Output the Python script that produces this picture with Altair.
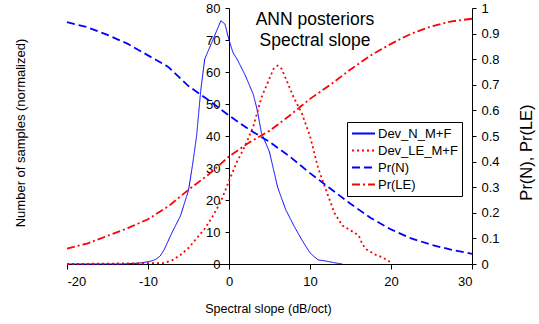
import altair as alt
import pandas as pd

series_names = ["Dev_N_M+F", "Dev_LE_M+F", "Pr(N)", "Pr(LE)"]

dev_n_x = [-20, -13, -11, -10, -9.5, -9, -8.5, -8, -7, -6, -5, -4.5, -4, -3.5, -3, -2.5, -2, -1.5,
           -1, -0.5, 0, 0.5, 1, 2, 3, 3.5, 4, 5, 6, 7, 8, 9, 10, 10.5, 11, 12, 13, 14]
dev_n_y = [0, 0, 0.3, 0.7, 1, 1.5, 2.5, 4.5, 10, 15, 23, 31, 40, 54, 64, 67, 70, 73,
           76, 75, 70, 66, 64, 59, 53, 48, 41, 35, 24, 17, 12, 7.5, 3.5, 2.3, 1.3, 0.9, 0.4, 0]

dev_le_x = [-20, -8, -7, -6, -5, -4, -3, -2, -1, 0, 1, 2, 3, 4, 5, 5.5, 6, 6.5, 7, 8, 9, 10,
            11, 12, 13, 14, 15, 16, 16.5, 17, 18, 19, 20]
dev_le_y = [0, 0.3, 1.2, 2.8, 5, 8, 11, 15, 19.5, 26, 32, 37, 43, 52, 58, 61, 62, 61, 58, 52, 47, 40,
            30, 23, 16, 12, 10.5, 9, 6, 4.5, 3, 2, 0.5]

pr_x = [-20, -17.5, -15, -12.5, -10, -7.5, -5, -2.5, 0, 2.5, 5, 7.5, 10, 12.5, 15, 17.5, 20,
        22.5, 25, 27.5, 30]
pr_n = [0.945, 0.925, 0.895, 0.86, 0.815, 0.77, 0.695, 0.64, 0.58, 0.525, 0.477, 0.42, 0.355,
        0.295, 0.235, 0.18, 0.135, 0.1, 0.075, 0.055, 0.04]
pr_le = [0.06, 0.08, 0.11, 0.14, 0.175, 0.225, 0.29, 0.35, 0.42, 0.475, 0.52, 0.58, 0.645,
         0.70, 0.76, 0.815, 0.86, 0.9, 0.928, 0.948, 0.958]

x_ticks = [-20, -10, 0, 10, 20, 30]
left_ticks = [0, 10, 20, 30, 40, 50, 60, 70, 80]
right_ticks = [0, 0.1, 0.2, 0.3, 0.4, 0.5, 0.6, 0.7, 0.8, 0.9, 1]
title_text = "ANN posteriors\nSpectral slope"


def frame(xs, ys, name):
    return pd.DataFrame({"x": xs, "y": ys, "series": [name] * len(xs)})


df_dev_n = frame(dev_n_x, dev_n_y, series_names[0])
df_dev_le = frame(dev_le_x, dev_le_y, series_names[1])
df_pr_n = frame(pr_x, pr_n, series_names[2])
df_pr_le = frame(pr_x, pr_le, series_names[3])

color_scale = alt.Scale(domain=series_names, range=["#0000ff", "#ff0000", "#0000ff", "#ff0000"])
dash_scale = alt.Scale(domain=series_names, range=[[1, 0], [2, 3], [8, 4], [8, 3, 2, 3]])

legend = alt.Legend(
    title=None, orient="none", legendX=280, legendY=114,
    strokeColor="black", fillColor="white", padding=4, cornerRadius=0,
    labelFontSize=13, labelColor="black", labelOffset=2,
    symbolType="stroke", symbolSize=529, symbolStrokeWidth=2,
    clipHeight=15, rowPadding=2,
)

x_enc = alt.X(
    "x:Q",
    scale=alt.Scale(domain=[-20, 30], nice=False, zero=False),
    axis=alt.Axis(
        values=x_ticks, grid=False, tickSize=5, labelPadding=16, labelBaseline="alphabetic",
        labelFontSize=13, labelExpr="datum.value + ''",
        title="Spectral slope (dB/oct)", titleFontSize=12.5, titleFontWeight="normal",
        titleX=201, titleY=48, titleBaseline="alphabetic", titleAlign="center",
        domainColor="black", tickColor="black", labelColor="black", titleColor="black",
    ),
)
color_enc = alt.Color("series:N", scale=color_scale, legend=legend)
dash_enc = alt.StrokeDash("series:N", scale=dash_scale, legend=legend)

y_left = alt.Y(
    "y:Q",
    scale=alt.Scale(domain=[0, 80], nice=False),
    axis=alt.Axis(
        orient="left", offset=-162, values=left_ticks, grid=False, tickSize=4, labelPadding=5,
        labelFontSize=13, title="Number of samples (normalized)", titleFontSize=13,
        titleFontWeight="normal", titleX=-209, titleY=124.5, titleAngle=270,
        titleBaseline="middle", titleAlign="center",
        domainColor="black", tickColor="black", labelColor="black", titleColor="black",
    ),
)
y_right = alt.Y(
    "y:Q",
    scale=alt.Scale(domain=[0, 1], nice=False),
    axis=alt.Axis(
        orient="right", values=right_ticks, grid=False, tickSize=4, labelPadding=5,
        labelFontSize=13, format="~g", title="Pr(N), Pr(LE)", titleFontSize=16.5,
        titleFontWeight="normal", titleX=54, titleY=144, titleAngle=270,
        titleBaseline="middle", titleAlign="center",
        domainColor="black", tickColor="black", labelColor="black", titleColor="black",
    ),
)

dev_n = alt.Chart(df_dev_n).mark_line(strokeWidth=1).encode(
    x=x_enc, y=y_left, color=color_enc, strokeDash=dash_enc)
dev_le = alt.Chart(df_dev_le).mark_line(strokeWidth=1.8).encode(
    x=x_enc, y=y_left, color=color_enc, strokeDash=dash_enc)
pr_n_line = alt.Chart(df_pr_n).mark_line(strokeWidth=1.8).encode(
    x=x_enc, y=y_right, color=color_enc, strokeDash=dash_enc)
pr_le_line = alt.Chart(df_pr_le).mark_line(strokeWidth=1.8).encode(
    x=x_enc, y=y_right, color=color_enc, strokeDash=dash_enc)

title_layer = alt.Chart(pd.DataFrame({"t": [title_text]})).mark_text(
    fontSize=17.5, lineBreak="\n", lineHeight=20.5, align="center", baseline="alphabetic",
    color="black",
).encode(x=alt.value(248), y=alt.value(17), text="t:N")

chart = alt.layer(
    alt.layer(dev_n, dev_le),
    alt.layer(pr_n_line, pr_le_line),
    title_layer,
).resolve_scale(y="independent").properties(
    width=405, height=256,
    autosize=alt.AutoSizeParams(type="none"),
    padding={"left": 67, "top": 8, "right": 67, "bottom": 60},
).configure(font="Liberation Sans").configure_view(stroke=None)

chart.save("out.html", embed_options={"renderer": "svg", "actions": False})
